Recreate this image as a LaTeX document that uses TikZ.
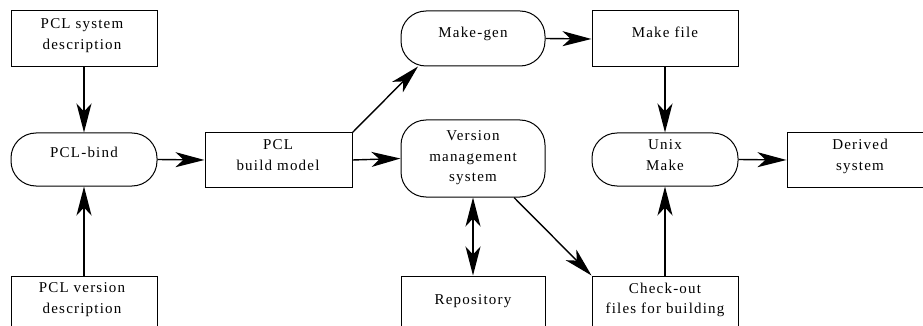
\documentclass[tikz,border=0pt]{standalone}
\usepackage{fontspec}
\setmainfont[LetterSpace=8]{Liberation Serif}
\usetikzlibrary{arrows.meta}
\tikzset{
  box/.style={draw, line width=1pt, rectangle, inner sep=0pt},
  rbox/.style={draw, line width=1pt, rectangle, rounded corners=25pt, inner sep=0pt},
  txt/.style={align=center, inner sep=0pt, font=\rmfamily\fontsize{15}{20.5}\selectfont},
  conn/.style={line width=1.4pt, -{Stealth[length=29pt, width=15pt, inset=8pt]}},
  bconn/.style={line width=1.4pt, {Stealth[length=29pt, width=15pt, inset=8pt]}-{Stealth[length=29pt, width=15pt, inset=8pt]}}
}
\begin{document}
\begin{tikzpicture}[x=1pt, y=-1pt]
\clip (0,0) rectangle (923,326);
\fill[white] (0,0) rectangle (923,326);
% boxes (pixel coordinates, y down)
\node[box, minimum width=146pt, minimum height=56pt] (sd) at (84,39) {};
\node[rbox, minimum width=146pt, minimum height=53pt] (bind) at (84,159.5) {};
\node[box, minimum width=146pt, minimum height=62pt] (vd) at (84,307) {};
\node[box, minimum width=147pt, minimum height=54pt] (bm) at (278.5,160) {};
\node[rbox, minimum width=144pt, minimum height=55pt] (mg) at (473,38.5) {};
\node[rbox, minimum width=144pt, minimum height=77pt] (vms) at (473,158.5) {};
\node[box, minimum width=144pt, minimum height=62pt] (rep) at (473,307) {};
\node[box, minimum width=146pt, minimum height=56pt] (mf) at (665,39) {};
\node[rbox, minimum width=146pt, minimum height=53pt] (um) at (665,159.5) {};
\node[box, minimum width=146pt, minimum height=54pt] (ds) at (860,160) {};
\node[box, minimum width=146pt, minimum height=62pt] (co) at (665,307) {};
% texts
\node[txt] (tsd) at (82,35) {\strut PCL system\\\strut description};
\node[txt] (tbind) at (84,153) {\strut PCL-bind};
\node[txt] (tvd) at (82,299) {\strut PCL version\\\strut description};
\node[txt] (tbm) at (278,156) {\strut PCL\\\strut build model};
\node[txt] (tmg) at (473,33) {\strut Make-gen};
\node[txt] (tvms) at (473,157) {\strut Version\\\strut management\\\strut system};
\node[txt] (trep) at (473,300) {\strut Repository};
\node[txt] (tmf) at (665,33) {\strut Make file};
\node[txt] (tum) at (665,156) {\strut Unix\\\strut Make};
\node[txt] (tds) at (860,156) {\strut Derived\\\strut system};
\node[txt] (tco) at (665,299.5) {\strut Check-out\\\strut files for building};
% connectors
\draw[conn] (sd.south) -- (bind.north);
\draw[conn] (vd.north) -- (bind.south);
\draw[conn] (bind.east) -- (bm.west);
\draw[conn] (bm.north east) -- ([xshift=-55pt]mg.south);
\draw[conn] (bm.east) -- (vms.west);
\draw[conn] (mg.east) -- (mf.west);
\draw[conn] (mf.south) -- (um.north);
\draw[conn] (um.east) -- (ds.west);
\draw[bconn] (vms.south) -- (rep.north);
\draw[conn] ([xshift=41pt]vms.south) -- (co.north west);
\draw[conn] (co.north) -- (um.south);
\end{tikzpicture}
\end{document}
